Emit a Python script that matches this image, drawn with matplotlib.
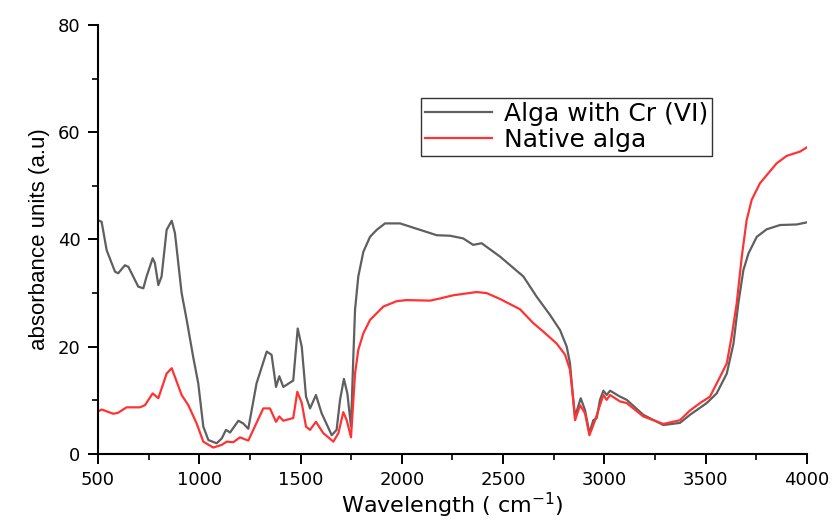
import matplotlib.pyplot as plt
from matplotlib.ticker import MultipleLocator

# ── Data ─────────────────────────────────────────────────────────────────────
cr_x = [500, 518, 543, 584, 600, 633, 650, 674, 699, 724, 740, 770, 781, 798,
        814, 839, 864, 880, 913, 938, 970, 995, 1020, 1045, 1086, 1111, 1132,
        1152, 1193, 1217, 1242, 1283, 1333, 1357, 1379, 1395, 1415, 1464, 1486,
        1506, 1527, 1547, 1576, 1604, 1654, 1678, 1695, 1714, 1731, 1749, 1760,
        1769, 1785, 1810, 1843, 1876, 1917, 1991, 2090, 2172, 2238, 2303, 2352,
        2394, 2485, 2600, 2666, 2732, 2781, 2814, 2830, 2843, 2855, 2883, 2904,
        2926, 2945, 2962, 2978, 2995, 3011, 3028, 3077, 3110, 3192, 3291, 3373,
        3422, 3505, 3554, 3604, 3637, 3661, 3686, 3711, 3752, 3801, 3867, 3949,
        4000]
cr_y = [43.6, 43.3, 38.0, 34.0, 33.7, 35.2, 34.9, 33.1, 31.2, 30.9, 33.1, 36.5,
        35.6, 31.5, 33.1, 41.8, 43.5, 41.2, 30.0, 25.0, 18.1, 13.2, 5.1, 2.6,
        2.0, 2.9, 4.5, 4.0, 6.2, 5.7, 4.7, 13.2, 19.1, 18.5, 12.5, 14.5, 12.5,
        13.7, 23.4, 20.0, 10.7, 8.5, 11.0, 7.6, 3.5, 4.5, 10.1, 14.0, 11.3, 5.1,
        17.5, 26.9, 33.1, 37.7, 40.5, 41.8, 43.0, 43.0, 41.8, 40.8, 40.7, 40.2,
        39.0, 39.3, 36.8, 33.1, 29.3, 25.9, 23.1, 20.0, 16.9, 11.3, 7.0, 10.4,
        8.2, 3.9, 6.3, 6.7, 10.1, 11.8, 11.0, 11.8, 10.7, 10.1, 7.3, 5.4, 5.8,
        7.3, 9.5, 11.3, 15.0, 20.6, 28.1, 34.3, 37.4, 40.5, 41.9, 42.7, 42.8,
        43.2]

nat_x = [500, 518, 576, 600, 641, 707, 732, 770, 798, 839, 864, 913, 946, 987,
         1020, 1069, 1111, 1135, 1168, 1201, 1242, 1316, 1349, 1379, 1395, 1415,
         1464, 1484, 1506, 1527, 1547, 1576, 1612, 1662, 1687, 1711, 1728, 1749,
         1769, 1785, 1810, 1843, 1909, 1975, 2024, 2139, 2188, 2254, 2369, 2419,
         2485, 2583, 2649, 2699, 2764, 2806, 2830, 2843, 2855, 2880, 2904, 2926,
         2954, 2978, 2995, 3011, 3028, 3077, 3110, 3192, 3291, 3373, 3422, 3472,
         3521, 3571, 3604, 3628, 3653, 3678, 3702, 3727, 3768, 3850, 3900, 3966,
         4000]
nat_y = [7.9, 8.3, 7.5, 7.7, 8.7, 8.7, 9.1, 11.3, 10.4, 15.0, 16.0, 11.0, 9.1,
         5.7, 2.3, 1.2, 1.7, 2.3, 2.2, 3.1, 2.5, 8.5, 8.5, 6.0, 7.0, 6.2, 6.7,
         11.6, 9.5, 5.1, 4.5, 6.0, 3.9, 2.3, 3.9, 7.8, 6.3, 3.1, 15.0, 19.4, 22.5,
         25.0, 27.5, 28.5, 28.7, 28.6, 29.0, 29.6, 30.2, 30.0, 28.9, 27.0, 24.4,
         22.8, 20.6, 18.5, 15.7, 11.3, 6.3, 9.1, 7.6, 3.5, 6.3, 9.1, 11.0, 10.1,
         11.0, 9.8, 9.5, 7.0, 5.6, 6.3, 8.1, 9.5, 10.7, 14.4, 16.9, 21.9, 28.1,
         36.8, 43.6, 47.4, 50.5, 54.2, 55.6, 56.4, 57.2]

x_ticks = [500, 1000, 1500, 2000, 2500, 3000, 3500, 4000]
y_ticks = [0, 20, 40, 60, 80]

# ── Plot ─────────────────────────────────────────────────────────────────────
plt.rcParams["font.family"] = ["DejaVu Sans"]

fig = plt.figure(figsize=(8.33, 5.24), dpi=100)
ax = fig.add_axes([0.1176, 0.1336, 0.8512, 0.8187])

ax.plot(cr_x, cr_y, color="#5f5f5f", lw=1.6, label="Alga with Cr (VI)")
ax.plot(nat_x, nat_y, color="#ff3333", lw=1.6, label="Native alga")

ax.set_xlim(500, 4000)
ax.set_ylim(0, 80)
ax.set_xticks(x_ticks)
ax.set_yticks(y_ticks)
ax.xaxis.set_minor_locator(MultipleLocator(250))
ax.yaxis.set_minor_locator(MultipleLocator(10))
ax.tick_params(which="major", direction="out", length=7.5, width=1.4,
               labelsize=13, pad=5)
ax.tick_params(which="minor", direction="out", length=4, width=1.2)

for side in ["top", "right"]:
    ax.spines[side].set_visible(False)
for side in ["left", "bottom"]:
    ax.spines[side].set_linewidth(1.5)

ax.set_xlabel("Wavelength ( cm$^{-1}$)", fontsize=16, labelpad=1)
ax.set_ylabel("absorbance units (a.u)", fontsize=16, labelpad=6,
              family=["Liberation Sans Narrow", "Liberation Sans"])

leg = ax.legend(loc="upper left", bbox_to_anchor=(0.4556, 0.830), fontsize=18,
                frameon=True, fancybox=False, edgecolor="black",
                handlelength=2.7, borderpad=0.15, labelspacing=0.1,
                handletextpad=0.45, borderaxespad=0)
leg.get_frame().set_linewidth(1.0)

plt.savefig("out.png", dpi=100)
plt.close()
